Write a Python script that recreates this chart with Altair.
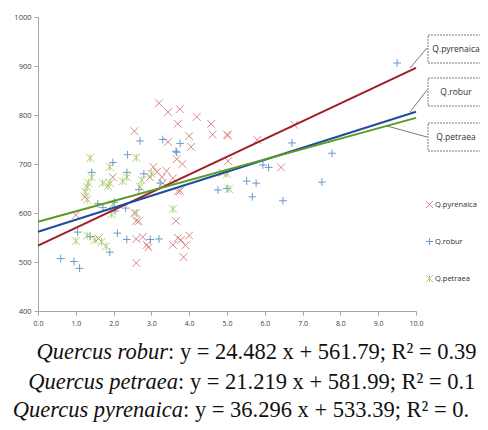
import altair as alt
import pandas as pd

species = ["Q.pyrenaica", "Q.robur", "Q.petraea"]

pyr_x = [3.2, 3.44, 3.75, 3.7, 4.2, 4.58, 4.62, 5.0, 5.02, 2.55, 4.0, 3.44, 4.05, 3.67, 3.82, 5.03,
         3.05, 3.15, 3.4, 2.96, 3.28, 3.57, 3.3, 1.98, 3.7, 3.76, 1.24, 1.0, 2.55, 2.6, 2.66, 3.65,
         1.6, 2.6, 2.77, 2.88, 2.92, 3.57, 3.7, 3.78, 3.9, 4.0, 3.85, 2.6, 5.8, 6.78, 6.43, 4.88]
pyr_y = [824, 806, 812, 782, 796, 782, 760, 760, 758, 767, 757, 745, 735, 710, 700, 706,
         694, 684, 686, 673, 673, 671, 661, 673, 644, 645, 633, 596, 600, 584, 583, 584,
         548, 547, 551, 535, 530, 535, 549, 545, 534, 554, 510, 498, 749, 780, 693, 682]

rob_x = [2.7, 3.3, 3.76, 3.65, 2.37, 1.98, 1.42, 2.35, 2.8, 2.67, 3.23, 3.67, 1.58, 1.72, 2.02,
         2.04, 2.32, 1.05, 1.38, 1.9, 2.1, 2.35, 2.97, 3.2, 0.6, 0.95, 1.1, 9.5, 6.72, 7.78,
         5.95, 6.1, 5.52, 5.77, 5.67, 6.48, 7.51, 4.76, 5.0]
rob_y = [747, 750, 742, 726, 719, 703, 683, 683, 680, 648, 661, 724, 619, 611, 622,
         604, 610, 561, 552, 520, 559, 546, 546, 547, 507, 501, 487, 906, 743, 722,
         698, 693, 665, 661, 633, 625, 663, 647, 650]

pet_x = [2.6, 1.38, 1.9, 1.42, 1.33, 1.3, 1.71, 1.85, 1.9, 2.24, 2.35, 2.75, 2.7, 1.3, 1.98,
         1.95, 2.6, 3.57, 1.0, 1.3, 1.5, 1.68, 1.8, 5.05, 5.0, 1.25, 3.0]
pet_y = [713, 712, 694, 673, 661, 653, 661, 655, 661, 665, 673, 667, 653, 627, 618,
         597, 600, 608, 543, 554, 545, 541, 532, 649, 680, 643, 680]

slopes = [36.296, 24.482, 21.219]
intercepts = [533.39, 561.79, 581.99]
fit_x = [0, 10]

eq_names = ["Quercus robur", "Quercus petraea", "Quercus pyrenaica"]
eq_rest = [": y = 24.482 x + 561.79; R\u00b2 = 0.39",
           ": y = 21.219 x + 581.99; R\u00b2 = 0.1",
           ": y = 36.296 x + 533.39; R\u00b2 = 0."]

x_ticks = [0, 1, 2, 3, 4, 5, 6, 7, 8, 9, 10]
y_ticks = [400, 500, 600, 700, 800, 900, 1000]

# ---------------------------------------------------------------
rows = []
for sp, xs_, ys_ in [(species[0], pyr_x, pyr_y), (species[1], rob_x, rob_y), (species[2], pet_x, pet_y)]:
    for a, b in zip(xs_, ys_):
        rows.append({"x": a, "y": b, "species": sp})
pts = pd.DataFrame(rows)

marker_colors = ["#d47c7a", "#5f8fc8", "#a8c968"]
line_colors = ["#a11d26", "#1f4c9c", "#5d9a24"]
shape_x = "M-1,-1L1,1M-1,1L1,-1"
shape_plus = "M0,-1L0,1M-1,0L1,0"
shape_star = "M-1,-1L1,1M-1,1L1,-1M0,-1L0,1"

xs = alt.Scale(domain=[0, 10], nice=False)
ys = alt.Scale(domain=[400, 1000], nice=False)
xax = alt.Axis(values=x_ticks, format=".1f", title=None, grid=False, labelFontSize=7,
               labelColor="#404040", domainColor="#a6a6a6", tickColor="#a6a6a6",
               tickSize=4, labelPadding=4, labelFont="Open Sans",
               labelOverlap=False, labelFlush=False, labelBound=False)
yax = alt.Axis(values=y_ticks, format="d", title=None, grid=False, labelFontSize=7.5,
               labelColor="#404040", domainColor="#a6a6a6", tickColor="#a6a6a6",
               tickSize=4, labelPadding=3, labelFont="Open Sans",
               labelOverlap=False, labelFlush=False)

leg = alt.Legend(title=None, orient="none", legendX=387, legendY=183,
                 labelFontSize=7.5, labelFont="Open Sans", labelColor="#303030",
                 rowPadding=24, symbolSize=50, symbolStrokeWidth=1, labelOffset=1)

points = alt.Chart(pts).mark_point(filled=False, size=60, strokeWidth=1, opacity=0.9).encode(
    x=alt.X("x:Q", scale=xs, axis=xax),
    y=alt.Y("y:Q", scale=ys, axis=yax),
    color=alt.Color("species:N", scale=alt.Scale(domain=species, range=marker_colors), legend=leg),
    shape=alt.Shape("species:N", scale=alt.Scale(domain=species,
                                                 range=[shape_x, shape_plus, shape_star]),
                    legend=leg),
)

layers = [points]
for i in range(3):
    df = pd.DataFrame({"x": fit_x, "y": [intercepts[i] + slopes[i] * v for v in fit_x]})
    layers.append(alt.Chart(df).mark_line(color=line_colors[i], strokeWidth=2).encode(
        x=alt.X("x:Q", scale=xs, axis=xax), y=alt.Y("y:Q", scale=ys, axis=yax)))

one = pd.DataFrame({"a": [0]})

# callout boxes
boxes = [(18, 46, "Q.pyrenaica", 32), (61, 89, "Q.robur", 75), (106, 134, "Q.petraea", 120)]
for y1, y2, label, ty in boxes:
    layers.append(alt.Chart(one).mark_rect(fill="white", stroke="#555555", strokeWidth=0.8,
                                           strokeDash=[2, 1]).encode(
        x=alt.value(390), x2=alt.value(470), y=alt.value(y1), y2=alt.value(y2)))
    layers.append(alt.Chart(one).mark_text(text=label, fontSize=8.5, font="Open Sans",
                                           color="#303030", align="center", baseline="middle").encode(
        x=alt.value(418), y=alt.value(ty)))

leaders = [(372, 51, 389, 31), (372, 95, 389, 73), (349, 109, 389, 120)]
for x1, y1, x2, y2 in leaders:
    layers.append(alt.Chart(one).mark_rule(color="#555555", strokeWidth=0.8).encode(
        x=alt.value(x1), y=alt.value(y1), x2=alt.value(x2), y2=alt.value(y2)))

# equations under the chart
eq_pos = [(130, 342), (140, 372), (145, 400)]
for name, rest, (sx, by) in zip(eq_names, eq_rest, eq_pos):
    layers.append(alt.Chart(one).mark_text(text=name, fontSize=22.5, font="Liberation Serif",
                                           fontStyle="italic", color="#111111", align="right",
                                           baseline="alphabetic").encode(
        x=alt.value(sx), y=alt.value(by)))
    layers.append(alt.Chart(one).mark_text(text=rest, fontSize=22.5, font="Liberation Serif",
                                           color="#111111", align="left",
                                           baseline="alphabetic").encode(
        x=alt.value(sx), y=alt.value(by)))

chart = alt.layer(*layers).properties(
    width=378, height=294,
    autosize=alt.AutoSizeParams(type="none"),
    padding={"left": 30, "top": 9, "right": 64, "bottom": 111},
).configure_view(stroke=None).configure_axis(labelOverlap=False)

chart.save("out.html", embed_options={"renderer": "svg", "actions": False})
